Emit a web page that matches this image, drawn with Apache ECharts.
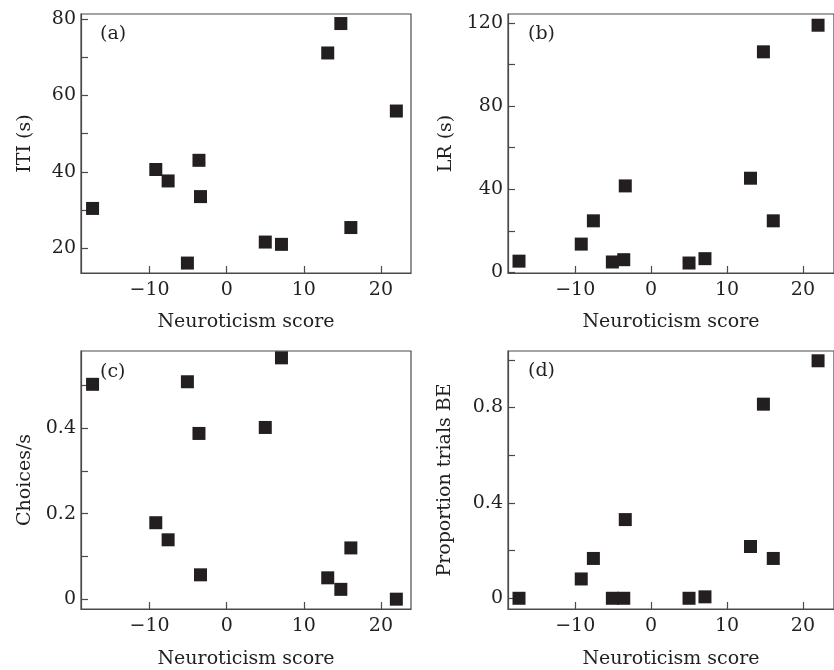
<!DOCTYPE html>
<html><head><meta charset="utf-8">
<script src="https://cdn.jsdelivr.net/npm/echarts@6/dist/echarts.min.js"></script>
<style>html,body{margin:0;padding:0;background:#fff}#c{width:834px;height:670px}</style>
</head><body><div id="c"></div>
<script>
// Neuroticism score of each subject (x for all panels)
const neuro = [-17.4, -9.2, -7.6, -5.1, -3.6, -3.4, 5.0, 7.1, 13.1, 14.8, 16.1, 22.0];
// (a) ITI (s)
const iti = [30.4, 40.6, 37.6, 16.1, 43.0, 33.5, 21.6, 21.0, 71.1, 78.8, 25.4, 55.9];
// (b) LR (s)
const lr = [5.4, 13.6, 24.8, 5.0, 6.1, 41.6, 4.5, 6.6, 45.3, 106.1, 24.8, 118.9];
// (c) Choices/s
const choices = [0.503, 0.179, 0.139, 0.509, 0.388, 0.057, 0.402, 0.565, 0.050, 0.023, 0.120, 0.0];
// (d) Proportion trials BE
const propBE = [0.0, 0.081, 0.167, 0.0, 0.0, 0.33, 0.0, 0.006, 0.217, 0.814, 0.167, 0.996];

const xTicks = [-10, 0, 10, 20];
const aTicks = [20, 30, 40, 50, 60, 70, 80], aLabels = [20, 40, 60, 80];
const bTicks = [0, 20, 40, 60, 80, 100, 120], bLabels = [0, 40, 80, 120];
const cTicks = [0, 0.1, 0.2, 0.3, 0.4, 0.5], cLabels = [0, 0.2, 0.4];
const dTicks = [0, 0.2, 0.4, 0.6, 0.8, 1.0], dLabels = [0, 0.4, 0.8];
const panelLabels = ['(a)', '(b)', '(c)', '(d)'];
const yNames = ['ITI (s)', 'LR (s)', 'Choices/s', 'Proportion trials BE'];
const xName = 'Neuroticism score';

const FONT = 'DejaVu Serif';
const TXT = '#231f20';
const LINE = '#4a4a4a';
const fmt = v => String(v).replace('-', '\u2212');

const grids = [
  {left: 81, top: 14, width: 330, height: 259},
  {left: 508, top: 14, width: 332, height: 259},
  {left: 81, top: 351, width: 330, height: 259},
  {left: 508, top: 351, width: 332, height: 259}
].map(g => Object.assign({show: true, borderColor: LINE, borderWidth: 1.2, backgroundColor: 'transparent'}, g));

const xRanges = [[-18.9, 23.9], [-18.85, 24.1], [-18.9, 23.9], [-18.85, 24.1]];
const yRanges = [[13.5, 81.3], [-0.3, 124.3], [-0.023, 0.581], [-0.045, 1.037]];
const yTickSets = [aTicks, bTicks, cTicks, dTicks];
const yLabelSets = [aLabels, bLabels, cLabels, dLabels];
const yGaps = [46, 52, 46, 53];
const xGaps = [40, 40, 41, 41];
const ys = [iti, lr, choices, propBE];

const xAxis = [0,1,2,3].map(i => ({
  type: 'value', gridIndex: i, min: xRanges[i][0], max: xRanges[i][1],
  name: xName, nameLocation: 'middle', nameGap: xGaps[i],
  nameTextStyle: {fontFamily: FONT, fontSize: 19, color: TXT},
  axisLine: {show: true, onZero: false, lineStyle: {color: LINE, width: 1.2}},
  axisTick: {show: true, inside: true, length: 7, lineStyle: {color: LINE, width: 1.2}, customValues: xTicks},
  axisLabel: {fontFamily: FONT, fontSize: 19, color: TXT, margin: 8, customValues: xTicks, formatter: fmt},
  splitLine: {show: false}
}));

const yAxis = [0,1,2,3].map(i => ({
  type: 'value', gridIndex: i, min: yRanges[i][0], max: yRanges[i][1],
  name: yNames[i], nameLocation: 'middle', nameGap: yGaps[i], nameRotate: 90,
  nameTextStyle: {fontFamily: FONT, fontSize: 19, color: TXT},
  axisLine: {show: true, onZero: false, lineStyle: {color: LINE, width: 1.2}},
  axisTick: {show: true, inside: true, length: 7, lineStyle: {color: LINE, width: 1.2}, customValues: yTickSets[i]},
  axisLabel: {fontFamily: FONT, fontSize: 19, color: TXT, margin: 5, customValues: yLabelSets[i], formatter: fmt},
  splitLine: {show: false}
}));

const series = [0,1,2,3].map(i => ({
  type: 'scatter', xAxisIndex: i, yAxisIndex: i,
  symbol: 'rect', symbolSize: 13,
  itemStyle: {color: '#231f20', opacity: 1},
  data: neuro.map((x, k) => [x, ys[i][k]]),
  clip: false
}));

const labelPos = [[100, 25], [528, 25], [100, 363], [528, 362]];
const graphic = panelLabels.map((t, i) => ({
  type: 'text', left: labelPos[i][0], top: labelPos[i][1],
  style: {text: t, font: '19px "' + FONT + '"', fill: TXT}
}));

const chart = echarts.init(document.getElementById('c'));
chart.setOption({animation: false, grid: grids, xAxis, yAxis, series, graphic});
</script>
</body></html>
